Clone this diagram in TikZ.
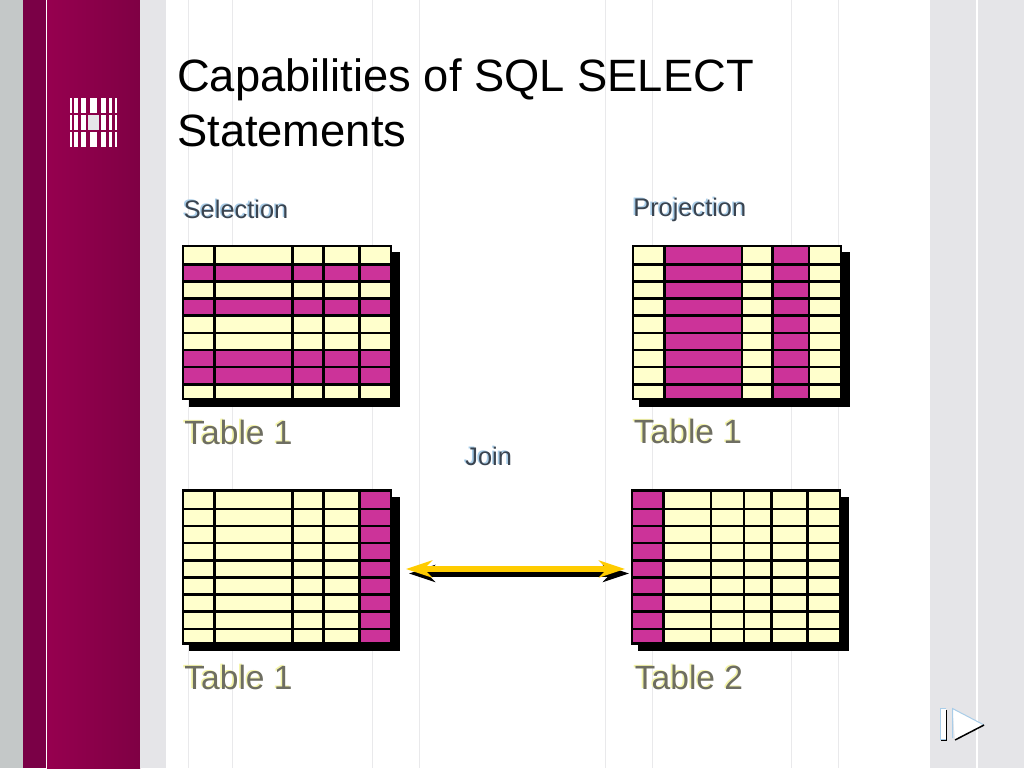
\documentclass[tikz,border=0pt]{standalone}
\usepackage{fontspec}
\setmainfont{Liberation Sans}
\usetikzlibrary{arrows.meta}

\definecolor{sidedark}{HTML}{7A0046}
\definecolor{sideleft}{HTML}{96004F}
\definecolor{sideright}{HTML}{7F0044}
\definecolor{sidegrey}{HTML}{C4C8C8}
\definecolor{panelgrey}{HTML}{E5E5E8}
\definecolor{rulegrey}{HTML}{E9E9EB}
\definecolor{cellcream}{HTML}{FFFFCC}
\definecolor{cellpink}{HTML}{CC3399}
\definecolor{joinyellow}{HTML}{FFCC00}
\definecolor{capdark}{HTML}{3A4450}
\definecolor{caplight}{HTML}{A9CDE8}
\definecolor{tabdark}{HTML}{6E6E62}
\definecolor{tablight}{HTML}{F4F4A8}

\tikzset{
    tabline/.style={black, line width=2.6pt},
    capnode/.style={anchor=base west, inner sep=0pt, font=\fontsize{25.4}{30}\selectfont},
    tabnode/.style={anchor=base west, inner sep=0pt, font=\fontsize{33.6}{38}\selectfont},
    joinarrow/.style={line width=6pt, {Stealth[length=26pt, width=17pt, inset=8pt]}-{Stealth[length=26pt, width=17pt, inset=8pt]}},
}

\newcommand{\ShadeText}[3]{\rlap{\textcolor{#2}{#3}}\kern1.6pt\raisebox{-1.2pt}{\textcolor{#1}{#3}}}

% x, y, column lines, pink cells
\newcommand{\SqlTable}[4]{%
    \begin{scope}[shift={(#1,#2)}]
        \fill[black] (6,6) rectangle (216.5,160.5);
        \fill[cellcream] (0,0) rectangle (208,153);
        #4
        \foreach \colx in {#3} \draw[tabline] (\colx,0) -- (\colx,153);
        \foreach \rowy in {18.3,35.3,52.5,69.7,87,104,121,138.3} \draw[tabline] (0,\rowy) -- (208,\rowy);
        \draw[tabline] (0,0) rectangle (208,153);
    \end{scope}}

\begin{document}
\begin{tikzpicture}[x=1pt, y=-1pt]
    \useasboundingbox (0,0) rectangle (1024,768);
    % page
    \fill[sidegrey] (0,0) rectangle (23,768);
    \fill[sidedark] (23,0) rectangle (46,768);
    \fill[white] (46,0) rectangle (47,768);
    \shade[left color=sideleft, right color=sideright] (47,0) rectangle (140,768);
    \fill[panelgrey] (140,0) rectangle (166,768);
    \fill[panelgrey] (930,0) rectangle (1024,768);
    \fill[white] (976,0) rectangle (978,768);
    \foreach \rulex in {188,232,372,419,605,652,791,838}
        \draw[rulegrey, line width=1pt] (\rulex,0) -- (\rulex,768);
    % logo
    \foreach \barx/\barw in {70/2, 74/4, 81/5, 90/7, 100.5/5, 108.5/3.5, 115/2} {
        \fill[white] (\barx,97.5) rectangle ++(\barw,15.5);
        \fill[white] (\barx,115) rectangle ++(\barw,15);
        \fill[white] (\barx,131.5) rectangle ++(\barw,15.5);
    }
    \fill[panelgrey] (88,115) rectangle (99,130);

    \node[anchor=north west, inner sep=0pt, align=left, font=\fontsize{45.3}{55}\selectfont] (title) at (177,58.5) {Capabilities of SQL SELECT\\Statements};

    \node[capnode] (selcap) at (182,217) {\ShadeText{capdark}{caplight}{Selection}};
    \node[capnode] (procap) at (631.5,215.5) {\ShadeText{capdark}{caplight}{Projection}};
    \node[capnode] (joincap) at (463.5,464) {\ShadeText{capdark}{caplight}{Join}};

    \SqlTable{183}{246}{31.7,109.7,140.3,176.7}{
        \foreach \rowy/\rowh in {18.3/17, 52.5/17.2, 104/17, 121/17.3}
            \fill[cellpink] (0,\rowy) rectangle (208,\rowy+\rowh);
    }
    \SqlTable{633}{246}{31.3,109,139.7,176}{
        \fill[cellpink] (31.3,0) rectangle (109,153);
        \fill[cellpink] (139.7,0) rectangle (176,153);
    }
    \SqlTable{183}{490.5}{31.7,109.7,140.3,176.7}{
        \fill[cellpink] (176.7,0) rectangle (208,153);
    }
    \SqlTable{632}{490.5}{31.3,79,112,139.7,175.7}{
        \fill[cellpink] (0,0) rectangle (31.3,153);
    }

    \node[tabnode] (tabsel) at (182.5,443) {\ShadeText{tabdark}{tablight}{Table 1}};
    \node[tabnode] (tabpro) at (632,442) {\ShadeText{tabdark}{tablight}{Table 1}};
    \node[tabnode] (tableft) at (182.5,688) {\ShadeText{tabdark}{tablight}{Table 1}};
    \node[tabnode] (tabright) at (633,688) {\ShadeText{tabdark}{tablight}{Table 2}};

    % join arrow, black one behind
    \coordinate (joinbl) at (409,573.5);
    \coordinate (joinbr) at (629,573.5);
    \coordinate (joinyl) at (406,569);
    \coordinate (joinyr) at (625,569);
    \draw[joinarrow, black] (joinbl) -- (joinbr);
    \draw[joinarrow, joinyellow] (joinyl) -- (joinyr);

    % next button
    \draw[caplight, line width=1pt, fill=white] (946,708.5) -- (940,708.5) -- (940,739.5) -- (946,739.5);
    \draw[black, line width=1pt] (941,740) -- (946.5,740) -- (946.5,710);
    \fill[white] (952.5,708.5) -- (984,725) -- (955,740) -- cycle;
    \draw[caplight, line width=1pt] (984,725) -- (952.5,708.5) -- (952.5,738);
    \draw[black, line width=1.5pt] (955,740) -- (984,725);
\end{tikzpicture}
\end{document}
